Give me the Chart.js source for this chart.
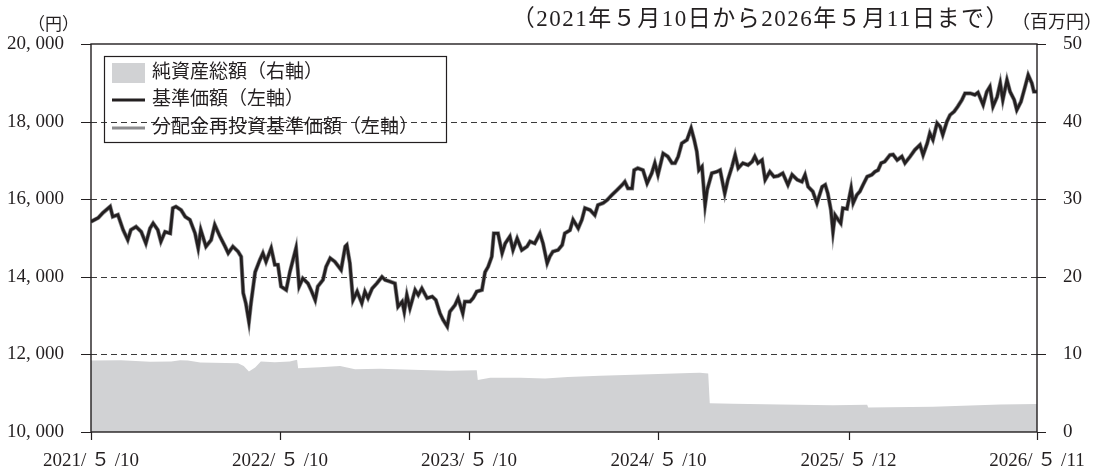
<!DOCTYPE html>
<html>
<head>
<meta charset="utf-8">
<title>基準価額・純資産の推移</title>
<script src="https://cdn.jsdelivr.net/npm/chart.js@4.4.0/dist/chart.umd.min.js"></script>
<style>
	html, body { margin: 0; padding: 0; background: #fff; }
	#wrap { width: 1119px; height: 468px; }
</style>
</head>
<body>
<div id="wrap"><canvas id="myChart" width="1119" height="468"></canvas></div>
<script>
// 基準価額（円）: 2021/5/10 からの経過日数と値
const navDays = [0,14,23,37,42,52,62,71,77,87,
	97,106,114,120,129,135,143,153,158,164,
	174,182,191,201,207,212,222,232,239,249,
	259,265,274,284,290,294,299,305,309,317,
	326,332,338,348,355,361,367,377,384,390,
	396,402,409,419,425,433,438,448,454,462,
	471,483,491,494,500,506,514,523,529,535,
	543,552,562,568,577,587,593,601,605,610,
	616,626,632,639,649,659,666,674,680,688,
	693,703,709,718,722,732,738,745,755,761,
	767,774,778,786,794,800,809,815,823,832,
	842,848,857,867,873,881,886,892,902,910,
	915,925,931,941,948,954,964,973,979,989,
	997,1006,1016,1026,1031,1037,1045,1049,1056,1066,
	1074,1083,1089,1095,1105,1114,1122,1128,1134,1141,
	1151,1159,1165,1170,1174,1180,1186,1190,1199,1209,
	1215,1224,1230,1238,1244,1250,1259,1269,1277,1282,
	1288,1296,1302,1311,1319,1327,1336,1346,1354,1364,
	1373,1379,1385,1394,1402,1412,1418,1423,1429,1433,
	1437,1443,1448,1452,1460,1468,1472,1479,1485,1491,
	1499,1508,1514,1520,1526,1533,1543,1549,1557,1566,
	1572,1582,1591,1601,1607,1615,1620,1626,1634,1640,
	1645,1653,1659,1667,1674,1682,1688,1698,1707,1713,
	1723,1730,1736,1742,1750,1756,1761,1769,1775,1783,
	1788,1796,1804,1810,1817,1821,1827];
const navValues = [15420,15520,15650,15810,15550,15600,15210,14950,15210,15290,
	15160,14860,15250,15380,15210,14910,15160,15120,15770,15810,
	15720,15550,15470,15120,14740,15210,14780,14950,15340,15040,
	14780,14610,14780,14650,14520,13580,13320,12840,13320,14120,
	14430,14610,14390,14740,14310,14310,13750,13660,14120,14430,
	14740,13750,13960,13830,13660,13400,13750,13920,14260,14480,
	14390,14180,14780,14820,14350,13400,13620,13320,13620,13450,
	13700,13830,14000,13920,13880,13830,13230,13360,13100,13530,
	13190,13660,13530,13700,13450,13490,13400,13060,12890,12720,
	13100,13270,13450,13060,13360,13360,13450,13620,13660,14120,
	14260,14520,15120,15120,14610,14860,15040,14690,14990,14690,
	14780,14910,14860,15120,14860,14350,14520,14650,14690,14820,
	15120,15200,15470,15250,15470,15770,15720,15590,15850,15900,
	15980,16110,16240,16370,16450,16280,16280,16750,16800,16750,
	16410,16670,16930,16630,17180,17100,16930,16930,17100,17440,
	17530,17830,17530,17230,16750,16840,15850,16240,16670,16710,
	16750,16150,16500,16840,17140,16800,16930,16880,16970,17100,
	16930,17010,16500,16710,16580,16600,16670,16370,16630,16500,
	16450,16630,16320,16200,15900,16320,16370,16150,15720,15160,
	15590,15470,15380,15770,15750,16280,15900,16110,16200,16370,
	16580,16630,16710,16750,16930,16970,17140,17150,17010,17100,
	16930,17100,17270,17400,17140,17440,17700,17530,17960,17870,
	17660,18000,18170,18260,18390,18560,18730,18730,18690,18750,
	18430,18770,18900,18390,18640,18990,18560,19070,18770,18560,
	18300,18510,18900,19200,18990,18770,18770];
// 分配金再投資基準価額（分配なしのため基準価額と同じ値）
const reinvestValues = navValues;

// 純資産総額（百万円）
const assetDays = [0,58,114,155,172,187,211,284,295,305,
	317,328,355,384,398,400,442,481,510,558,
	637,693,745,747,771,829,877,921,983,1080,
	1157,1176,1192,1195,1240,1331,1433,1499,1501,1626,
	1756,1827];
const assetValues = [9.2,9.25,9.05,9.1,9.25,9.2,8.95,8.85,8.5,7.8,
	8.3,9.1,9.0,9.1,9.3,8.2,8.35,8.5,8.1,8.15,
	8.0,7.9,7.95,6.7,7.0,7.0,6.9,7.1,7.25,7.45,
	7.6,7.65,7.55,3.7,3.65,3.55,3.45,3.5,3.15,3.25,
	3.55,3.6];

// 目盛
const xTickDays = [0, 365, 730, 1096, 1463, 1827];
const xTickLabels = ['2021/ ５ /10', '2022/ ５ /10', '2023/ ５ /10', '2024/ ５ /10', '2025/ ５ /12', '2026/ ５ /11'];
const leftTicks = [10000, 12000, 14000, 16000, 18000, 20000];
const rightTicks = [0, 10, 20, 30, 40, 50];

const seriesLabels = ['純資産総額（右軸）', '基準価額（左軸）', '分配金再投資基準価額（左軸）'];
const titleText = '（2021年５月10日から2026年５月11日まで）';

const FONT = '"Liberation Serif", "Noto Sans CJK JP", serif';
const INK = '#231f20';
const GRAY_LINE = '#8c8c8e';
const GRAY_FILL = '#d1d2d4';

Chart.defaults.font.family = FONT;
Chart.defaults.color = INK;

function toPoints(xs, ys) {
	return xs.map((d, i) => ({ x: d, y: ys[i] }));
}

// 枠線・目盛線・凡例・見出し
const frame = {
	id: 'frame',
	beforeDatasetsDraw(chart) {
		const { ctx, chartArea: a, scales } = chart;
		ctx.save();
		ctx.strokeStyle = '#3a3a3a';
		ctx.lineWidth = 1;
		ctx.setLineDash([6, 4]);
		leftTicks.slice(1, -1).forEach(v => {
			const py = Math.round(scales.y.getPixelForValue(v)) + 0.5;
			ctx.beginPath();
			ctx.moveTo(a.left, py);
			ctx.lineTo(a.right, py);
			ctx.stroke();
		});
		ctx.restore();
	},
	afterDatasetsDraw(chart) {
		const { ctx, chartArea: a, scales } = chart;
		ctx.save();
		ctx.strokeStyle = INK;
		ctx.lineWidth = 1.4;
		ctx.strokeRect(a.left, a.top, a.right - a.left, a.bottom - a.top);
		ctx.lineWidth = 1.2;
		ctx.beginPath();
		leftTicks.forEach(v => {
			const py = Math.round(scales.y.getPixelForValue(v)) + 0.5;
			ctx.moveTo(a.left - 10, py); ctx.lineTo(a.left, py);
		});
		rightTicks.forEach(v => {
			const py = Math.round(scales.y2.getPixelForValue(v)) + 0.5;
			ctx.moveTo(a.right, py); ctx.lineTo(a.right + 9, py);
		});
		xTickDays.forEach(v => {
			const px = Math.round(scales.x.getPixelForValue(v)) + 0.5;
			ctx.moveTo(px, a.bottom); ctx.lineTo(px, a.bottom + 8);
		});
		ctx.stroke();
		ctx.restore();
	},
	afterDraw(chart) {
		const { ctx } = chart;
		const ds = chart.data.datasets;
		ctx.save();
		ctx.fillStyle = INK;
		ctx.textBaseline = 'middle';

		// 見出し
		ctx.font = '23px ' + FONT;
		ctx.letterSpacing = '1.5px';
		ctx.textAlign = 'right';
		ctx.fillText(titleText, 1010, 20);
		ctx.letterSpacing = '0px';
		ctx.font = '18px ' + FONT;
		ctx.textAlign = 'left';
		ctx.fillText('（百万円）', 1012, 23);
		ctx.font = '17px ' + FONT;
		ctx.fillText('（円）', 28, 26);

		// 凡例
		ctx.strokeStyle = INK;
		ctx.lineWidth = 1.2;
		ctx.strokeRect(104.5, 56.5, 342, 86);
		ctx.font = '19px ' + FONT;
		const rows = [73, 100, 128];
		ctx.fillStyle = ds[2].backgroundColor;
		ctx.fillRect(112, 63, 33, 20);
		ctx.strokeStyle = ds[0].borderColor;
		ctx.lineWidth = 3;
		ctx.beginPath(); ctx.moveTo(112, rows[1]); ctx.lineTo(145, rows[1]); ctx.stroke();
		ctx.strokeStyle = ds[1].borderColor;
		ctx.beginPath(); ctx.moveTo(112, rows[2]); ctx.lineTo(145, rows[2]); ctx.stroke();
		ctx.fillStyle = INK;
		ctx.fillText(ds[2].label, 152, rows[0]);
		ctx.fillText(ds[0].label, 152, rows[1]);
		ctx.fillText(ds[1].label, 152, rows[2]);
		ctx.restore();
	}
};

var ctx = document.getElementById('myChart').getContext('2d');
var chart = new Chart(ctx, {
	type: 'line',
	data: {
		datasets: [{
			label: seriesLabels[1],
			data: toPoints(navDays, navValues),
			yAxisID: 'y',
			borderColor: INK,
			borderWidth: 2.8,
			pointRadius: 0,
			tension: 0,
			order: 0
		}, {
			label: seriesLabels[2],
			data: toPoints(navDays, reinvestValues),
			yAxisID: 'y',
			borderColor: GRAY_LINE,
			borderWidth: 4.2,
			pointRadius: 0,
			tension: 0,
			order: 1
		}, {
			label: seriesLabels[0],
			data: toPoints(assetDays, assetValues),
			yAxisID: 'y2',
			borderWidth: 0,
			borderColor: GRAY_FILL,
			backgroundColor: GRAY_FILL,
			fill: 'origin',
			pointRadius: 0,
			tension: 0,
			order: 2
		}]
	},
	options: {
		responsive: false,
		animation: false,
		layout: { padding: { top: 44, left: 0, right: 0, bottom: 0 } },
		plugins: { legend: { display: false }, tooltip: { enabled: false } },
		scales: {
			x: {
				type: 'linear',
				min: 0,
				max: 1827,
				afterBuildTicks: s => { s.ticks = xTickDays.map(v => ({ value: v })); },
				afterFit: s => { s.height = 36; },
				grid: { display: false },
				border: { display: false },
				ticks: {
					autoSkip: false,
					maxRotation: 0,
					padding: 10,
					font: { size: 19 },
					callback: v => xTickLabels[xTickDays.indexOf(v)]
				}
			},
			y: {
				position: 'left',
				min: 10000,
				max: 20000,
				afterBuildTicks: s => { s.ticks = leftTicks.map(v => ({ value: v })); },
				afterFit: s => { s.width = 91; },
				grid: { display: false },
				border: { display: false },
				ticks: {
					padding: 19,
					font: { size: 19 },
					callback: v => Math.floor(v / 1000) + ', ' + String(v % 1000).padStart(3, '0')
				}
			},
			y2: {
				position: 'right',
				min: 0,
				max: 50,
				afterBuildTicks: s => { s.ticks = rightTicks.map(v => ({ value: v })); },
				afterFit: s => { s.width = 82; },
				grid: { display: false },
				border: { display: false },
				ticks: {
					padding: 18,
					font: { size: 19 }
				}
			}
		}
	},
	plugins: [frame]
});
</script>
</body>
</html>
